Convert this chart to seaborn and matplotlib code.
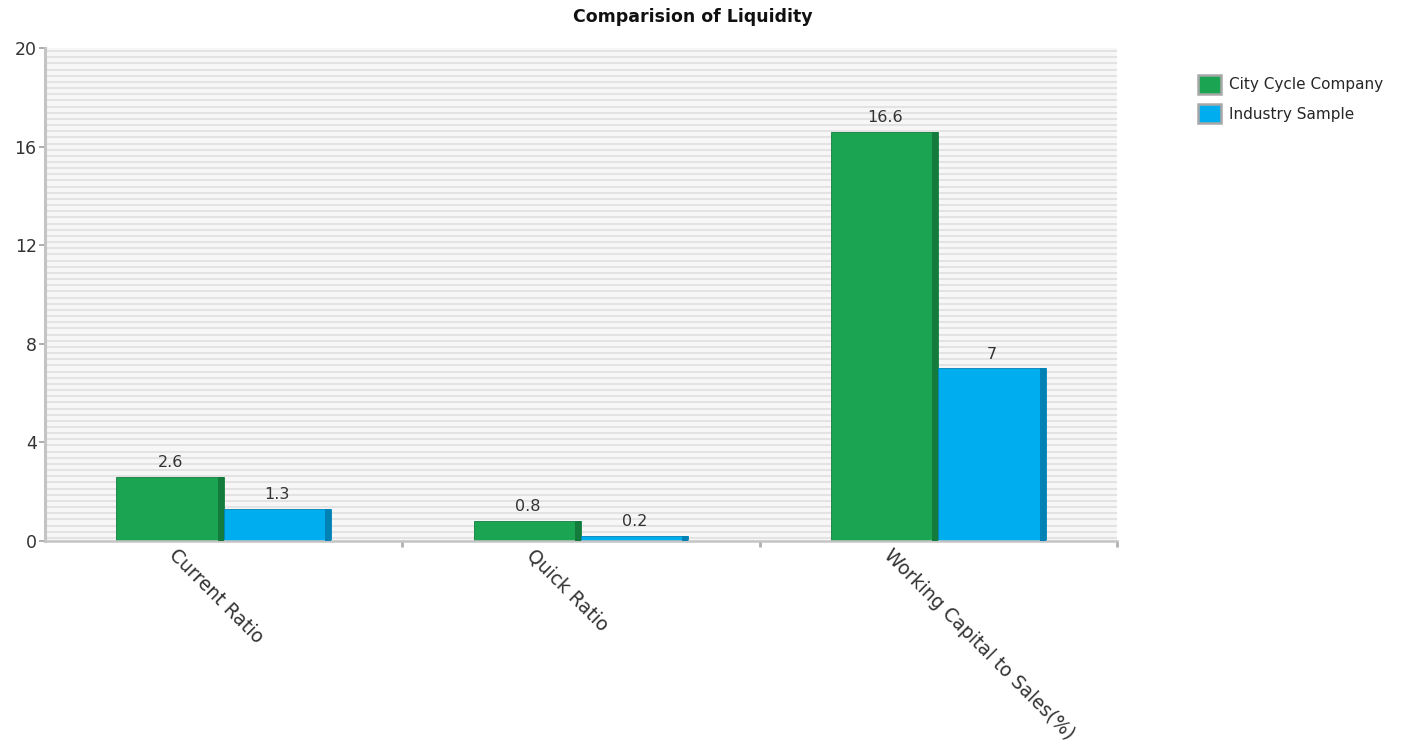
import numpy as np
import pandas as pd
import matplotlib
matplotlib.use("Agg")
import matplotlib.pyplot as plt
import matplotlib.transforms as mtransforms
from matplotlib.patches import Patch, Rectangle
import seaborn as sns

# Liquidity ratios
metrics = ["Current Ratio", "Quick Ratio", "Working Capital to Sales(%)"]
city_cycle = [2.6, 0.8, 16.6]
industry = [1.3, 0.2, 7]
series_names = ["City Cycle Company", "Industry Sample"]
y_ticks = [0, 4, 8, 12, 16, 20]

df = pd.DataFrame({
    "metric": metrics * 2,
    "value": city_cycle + industry,
    "series": [series_names[0]] * len(metrics) + [series_names[1]] * len(metrics),
})

face = {series_names[0]: "#1ba553", series_names[1]: "#00adee"}
shade = {series_names[0]: "#137c3c", series_names[1]: "#0082b4"}

sns.set_theme(style="white")
plt.rcParams["font.family"] = ["DejaVu Sans"]

fig = plt.figure(figsize=(14.13, 7.41), dpi=100)
ax = fig.add_axes([45 / 1413, 1 - 541 / 741, 1072 / 1413, 493 / 741])

# striped plot background
ax.set_facecolor("#f7f7f7")
for yy in np.arange(0.125, 20, 0.25):
    ax.axhline(yy, color="#e3e3e3", lw=1.5, zorder=0)

sns.barplot(data=df, x="metric", y="value", hue="series", order=metrics,
            hue_order=series_names, palette=face, width=0.6, dodge=True,
            saturation=1, ax=ax, legend=False, zorder=2)

# darker right edge on each bar
for container, name in zip(ax.containers, series_names):
    for p in container.patches:
        w = p.get_width() * 0.055
        ax.add_patch(Rectangle((p.get_x() + p.get_width() - w, 0), w, p.get_height(),
                               facecolor=shade[name], edgecolor="none", zorder=3))
        p.set_edgecolor(shade[name])
        p.set_linewidth(0.6)
    labels = [f"{v:g}" for v in container.datavalues]
    ax.bar_label(container, labels=labels, padding=5, fontsize=11.5, color="#333333")

ax.set_xlim(-0.5, 2.5)
ax.set_ylim(0, 20)
ax.set_yticks(y_ticks)
ax.set_yticklabels([str(t) for t in y_ticks], fontsize=12.5, color="#333333")
ax.set_xlabel("")
ax.set_ylabel("")

ax.set_xticks(range(len(metrics)))
ax.set_xticklabels(metrics, rotation=-45, ha="left", va="top", fontsize=13.5, color="#333333")
ax.tick_params(axis="x", which="major", length=0, pad=3)
ax.set_xticks([0.5, 1.5, 2.5], minor=True)
ax.tick_params(axis="x", which="minor", length=4, width=2, color="#b0b0b0", bottom=True)
ax.tick_params(axis="y", length=4, width=1.2, color="#a0a0a0", left=True, pad=2)
shift = mtransforms.ScaledTranslation(-0.58, 0, fig.dpi_scale_trans)
for lbl in ax.get_xticklabels():
    lbl.set_transform(lbl.get_transform() + shift)

for side in ["top", "right"]:
    ax.spines[side].set_visible(False)
ax.spines["left"].set_color("#c4c4c4")
ax.spines["left"].set_linewidth(2.2)
ax.spines["bottom"].set_color("#c4c4c4")
ax.spines["bottom"].set_linewidth(1.8)

fig.text(693 / 1413, 1 - 17 / 741, "Comparision of Liquidity", ha="center", va="center",
         fontsize=12.5, fontweight="bold", color="#111111")

handles = [Patch(facecolor=face[n], edgecolor="#a8a8a8", linewidth=1.8) for n in series_names]
fig.legend(handles, series_names, loc="upper left", bbox_to_anchor=(1198 / 1413, 1 - 75 / 741),
           frameon=False, fontsize=11, handlelength=1.5, handleheight=1.5,
           handletextpad=0.5, labelspacing=0.7, borderaxespad=0, borderpad=0)

fig.savefig("out.png", dpi=100, facecolor="white")
